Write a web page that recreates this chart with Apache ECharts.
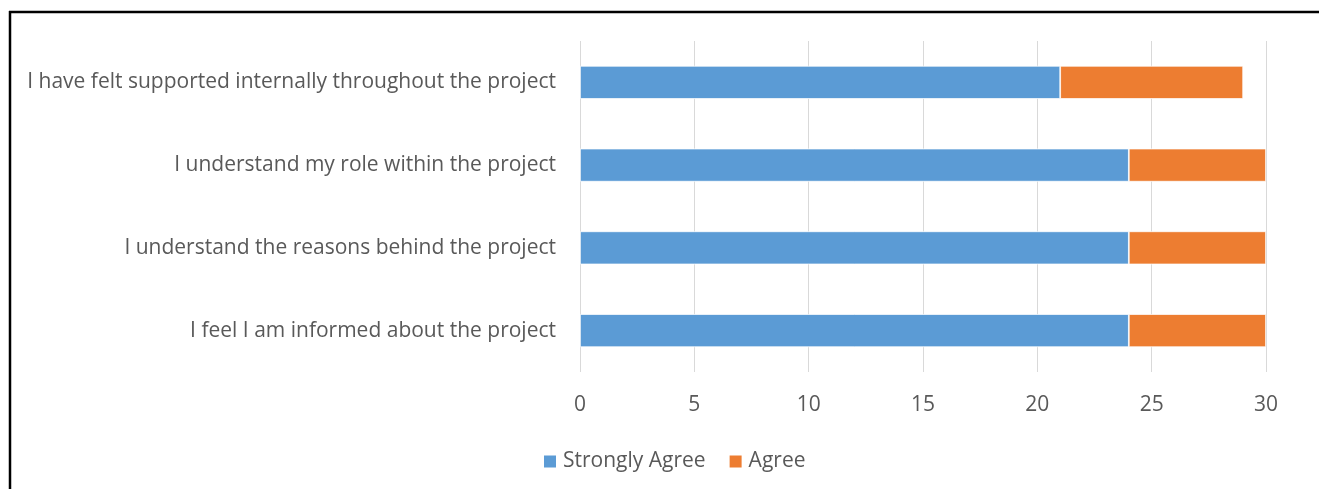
<!DOCTYPE html>
<html>
<head>
<meta charset="utf-8">
<style>
  html, body { margin: 0; padding: 0; background: #fff; }
  #chart { width: 1319px; height: 489px; }
</style>
<script src="https://cdn.jsdelivr.net/npm/echarts@6/dist/echarts.min.js"></script>
</head>
<body>
<div id="chart"></div>
<script>
// Survey statements, listed bottom to top as drawn on the category axis
const categories = [
  'I feel I am informed about the project',
  'I understand the reasons behind the project',
  'I understand my role within the project',
  'I have felt supported internally throughout the project'
];
const stronglyAgree = [24, 24, 24, 21];
const agree = [6, 6, 6, 8];
const xTicks = [0, 5, 10, 15, 20, 25, 30];

const FONT = '"Open Sans", sans-serif';
const TEXT = '#595959';
const SIZE = 21;

const chart = echarts.init(document.getElementById('chart'));
chart.setOption({
  animation: false,
  textStyle: { fontFamily: FONT },
  grid: { left: 580, right: 53, top: 41, bottom: 117, containLabel: false },
  legend: {
    left: 537,
    top: 446,
    itemWidth: 14,
    itemHeight: 14,
    itemGap: 22,
    icon: 'rect',
    textStyle: { fontFamily: FONT, fontSize: SIZE, color: TEXT, padding: [0, 0, 0, 1] },
    data: ['Strongly Agree', 'Agree']
  },
  xAxis: {
    type: 'value',
    min: xTicks[0],
    max: xTicks[xTicks.length - 1],
    interval: 5,
    axisLine: { show: false },
    axisTick: { show: false },
    axisLabel: { fontFamily: FONT, fontSize: SIZE, color: TEXT, margin: 23 },
    splitLine: { lineStyle: { color: '#d9d9d9', width: 1 } }
  },
  yAxis: {
    type: 'category',
    data: categories,
    axisLine: { show: false },
    axisTick: { show: false },
    axisLabel: { fontFamily: FONT, fontSize: SIZE, color: TEXT, margin: 24, padding: [3, 0, 0, 0] }
  },
  series: [
    {
      name: 'Strongly Agree',
      type: 'bar',
      stack: 'total',
      barWidth: '40%',
      data: stronglyAgree,
      itemStyle: { color: '#5b9bd5', borderColor: '#ffffff', borderWidth: 0.75 }
    },
    {
      name: 'Agree',
      type: 'bar',
      stack: 'total',
      barWidth: '40%',
      data: agree,
      itemStyle: { color: '#ed7d31', borderColor: '#ffffff', borderWidth: 0.75 }
    }
  ],
  graphic: [
    { type: 'line', shape: { x1: 9, y1: 12, x2: 1319, y2: 12 }, style: { stroke: '#000', lineWidth: 2.5 } },
    { type: 'line', shape: { x1: 10, y1: 11, x2: 10, y2: 489 }, style: { stroke: '#000', lineWidth: 2.5 } }
  ]
});
</script>
</body>
</html>
